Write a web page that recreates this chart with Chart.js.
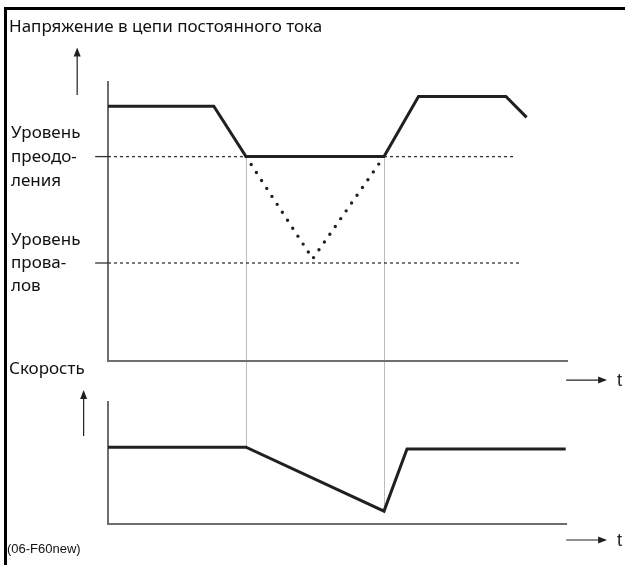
<!DOCTYPE html>
<html lang="ru">
<head>
<meta charset="utf-8">
<title>Напряжение в цепи постоянного тока</title>
<script src="https://cdn.jsdelivr.net/npm/chart.js@4/dist/chart.umd.min.js"></script>
<style>
  html, body { margin: 0; padding: 0; background: #fff; }
  canvas { display: block; }
</style>
</head>
<body>
<canvas id="diagram" width="625" height="565"></canvas>
<script>
  // ────────── Data (time: 0 = axis origin, 100 = axis end; levels 0..100) ──────────
  const voltTimes   = [0, 23, 30, 60, 67.5, 86.5, 91];
  const voltValues  = [91, 91, 73, 73, 94.5, 94.5, 87];
  const dipTimes    = [30, 44.5, 60];
  const dipValues   = [73, 36.5, 73];
  const levelValues = [73, 35];            // уровень преодоления, уровень провалов
  const levelEnds   = [88.5, 89.5];
  const levelTick   = -2.8;
  const speedTimes  = [0, 30, 60, 65, 99.5];
  const speedValues = [62.5, 62.5, 10.5, 61, 61];
  const guideTimes  = [30, 60];
  const axisEnds    = [100, 99.8];         // top / bottom baseline length
  const upArrows    = [{t: -6.7, from: 95, to: 112}, {t: -5.3, from: 71.5, to: 109}];
  const timeArrows  = [{from: 99.6, to: 108.5, y: -6.8}, {from: 99.6, to: 108.5, y: -13}];

  // ────────── Layout ──────────
  const AREA = {left: 71, right: 623, top: 40, bottom: 560};
  const X0 = 108, X100 = 568;      // pixel of t=0 and t=100
  const V0 = 361, V100 = 81;       // voltage panel
  const S0 = 524, S100 = 401;      // speed panel
  const valueAt = (p, p0, p100) => 100 * (p - p0) / (p100 - p0);

  const INK = '#231f20';
  const AXIS = '#6d6e71';
  const FONT = '"Noto Sans", "Open Sans", sans-serif';

  const pts = (xs, ys) => xs.map((x, i) => ({x, y: ys[i]}));
  const line = (data, axis, extra) => Object.assign({
    data, yAxisID: axis, showLine: true, pointRadius: 0, borderColor: INK,
    borderWidth: 3, fill: false, clip: false, tension: 0
  }, extra);

  const datasets = [
    line(pts(voltTimes, voltValues), 'v', {borderJoinStyle: 'miter'}),
    line(pts(dipTimes, dipValues), 'v', {borderWidth: 3.4, borderDash: [0, 9.5], borderCapStyle: 'round'}),
    line(pts(speedTimes, speedValues), 's', {borderJoinStyle: 'miter'})
  ];
  levelValues.forEach((lv, i) => {
    datasets.push(line([{x: 0, y: lv}, {x: levelEnds[i], y: lv}], 'v',
      {borderWidth: 1.3, borderDash: [3, 3], borderColor: '#333'}));
    datasets.push(line([{x: levelTick, y: lv}, {x: 0, y: lv}], 'v',
      {borderWidth: 1.3, borderColor: '#333'}));
  });

  // ────────── Drawing helpers ──────────
  const diagramPlugin = {
    id: 'diagram-extras',
    beforeDatasetsDraw(chart) {
      const {ctx, scales: {x, v, s}} = chart;
      ctx.save();
      // guides from voltage event down to speed curve
      ctx.strokeStyle = '#7a7a7a';
      ctx.lineWidth = 1;
      ctx.setLineDash([1, 1]);
      guideTimes.forEach(t => {
        const sv = speedValues[speedTimes.indexOf(t)];
        const px = Math.round(x.getPixelForValue(t)) + 0.5;
        ctx.beginPath();
        ctx.moveTo(px, v.getPixelForValue(levelValues[0]));
        ctx.lineTo(px, s.getPixelForValue(sv));
        ctx.stroke();
      });
      ctx.setLineDash([]);
      // panel axes
      ctx.strokeStyle = AXIS;
      ctx.lineWidth = 2;
      [[v, axisEnds[0]], [s, axisEnds[1]]].forEach(([sc, end]) => {
        ctx.beginPath();
        ctx.moveTo(x.getPixelForValue(0), sc.getPixelForValue(100));
        ctx.lineTo(x.getPixelForValue(0), sc.getPixelForValue(0));
        ctx.lineTo(x.getPixelForValue(end), sc.getPixelForValue(0));
        ctx.stroke();
      });
      ctx.restore();
    },
    afterDraw(chart) {
      const {ctx, scales: {x, v, s}} = chart;
      ctx.save();
      ctx.strokeStyle = INK;
      ctx.fillStyle = INK;
      ctx.lineWidth = 1.2;
      // up arrows
      [v, s].forEach((sc, i) => {
        const a = upArrows[i];
        const px = x.getPixelForValue(a.t);
        const y1 = sc.getPixelForValue(a.from), y2 = sc.getPixelForValue(a.to);
        ctx.beginPath(); ctx.moveTo(px, y1); ctx.lineTo(px, y2 + 6); ctx.stroke();
        ctx.beginPath(); ctx.moveTo(px, y2); ctx.lineTo(px - 3.5, y2 + 9); ctx.lineTo(px + 3.5, y2 + 9);
        ctx.closePath(); ctx.fill();
      });
      // time arrows
      [v, s].forEach((sc, i) => {
        const a = timeArrows[i];
        const py = sc.getPixelForValue(a.y);
        const x1 = x.getPixelForValue(a.from), x2 = x.getPixelForValue(a.to);
        ctx.beginPath(); ctx.moveTo(x1, py); ctx.lineTo(x2 - 6, py); ctx.stroke();
        ctx.beginPath(); ctx.moveTo(x2, py); ctx.lineTo(x2 - 9, py - 3.5); ctx.lineTo(x2 - 9, py + 3.5);
        ctx.closePath(); ctx.fill();
        ctx.font = '18px "Liberation Sans", Arial, sans-serif';
        ctx.textBaseline = 'middle';
        ctx.fillText('t', x2 + 10, py + 1);
      });
      // texts
      ctx.fillStyle = '#111';
      ctx.textBaseline = 'middle';
      ctx.font = '17px ' + FONT;
      ctx.fillText('Напряжение в цепи постоянного тока', 9, 27);
      [['Уровень', 133], ['преодо-', 157], ['ления', 181],
       ['Уровень', 240], ['прова-', 263], ['лов', 286]].forEach(([txt, y]) => ctx.fillText(txt, 11, y));
      ctx.fillText('Скорость', 9, 369);
      ctx.font = '13px "Liberation Sans", Arial, sans-serif';
      ctx.fillText('(06-F60new)', 7, 549);
      // frame
      ctx.fillStyle = '#000';
      ctx.fillRect(4, 7, 3, 558);
      ctx.fillRect(4, 7, 621, 3);
      ctx.restore();
    }
  };

  new Chart(document.getElementById('diagram'), {
    type: 'scatter',
    data: {datasets},
    options: {
      responsive: false,
      animation: false,
      devicePixelRatio: 1,
      layout: {padding: {left: AREA.left, right: 625 - AREA.right, top: AREA.top, bottom: 565 - AREA.bottom}},
      plugins: {legend: {display: false}, tooltip: {enabled: false}},
      scales: {
        x: {type: 'linear', display: false, min: valueAt(AREA.left, X0, X100), max: valueAt(AREA.right, X0, X100)},
        v: {type: 'linear', axis: 'y', display: false, min: valueAt(AREA.bottom, V0, V100), max: valueAt(AREA.top, V0, V100)},
        s: {type: 'linear', axis: 'y', display: false, min: valueAt(AREA.bottom, S0, S100), max: valueAt(AREA.top, S0, S100)}
      }
    },
    plugins: [diagramPlugin]
  });
</script>
</body>
</html>
